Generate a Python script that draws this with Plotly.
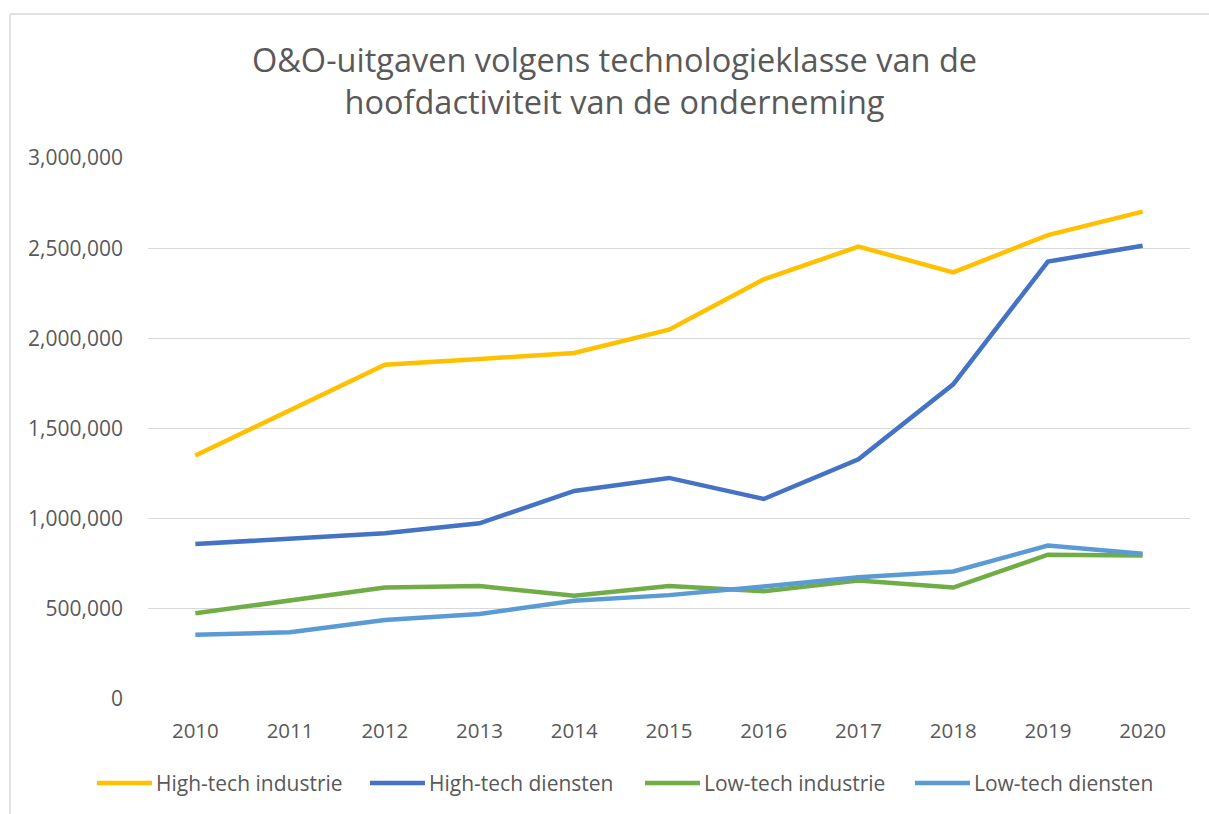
import plotly.graph_objects as go

years = ["2010", "2011", "2012", "2013", "2014", "2015", "2016", "2017", "2018", "2019", "2020"]
high_tech_industrie = [1350000, 1602000, 1853000, 1885000, 1919000, 2048000, 2327000, 2509000, 2366000, 2572000, 2703000]
high_tech_diensten = [859000, 889000, 919000, 974000, 1154000, 1226000, 1109000, 1329000, 1745000, 2426000, 2513000]
low_tech_industrie = [475000, 547000, 618000, 626000, 572000, 626000, 598000, 657000, 618000, 800000, 796000]
low_tech_diensten = [356000, 370000, 438000, 471000, 545000, 576000, 624000, 675000, 707000, 851000, 806000]

series_names = ["High-tech industrie", "High-tech diensten", "Low-tech industrie", "Low-tech diensten"]
series_values = [high_tech_industrie, high_tech_diensten, low_tech_industrie, low_tech_diensten]
series_colors = ["#FFC000", "#4472C4", "#70AD47", "#5B9BD5"]

FONT = "Open Sans, Liberation Sans, Arial, sans-serif"
TXT = "#595959"

fig = go.Figure()
for name, vals, col in zip(series_names, series_values, series_colors):
    fig.add_trace(go.Scatter(x=years, y=vals, name=name, mode="lines",
                             line=dict(color=col, width=4.5)))

W, H = 1209, 814
L, R, T, B = 148, 1190, 158, 699
fig.update_layout(
    width=W, height=H,
    margin=dict(l=L, r=W - R, t=T, b=H - B, autoexpand=False),
    paper_bgcolor="white", plot_bgcolor="white",
    font=dict(family=FONT, color=TXT, size=20),
    title=dict(text="O&O-uitgaven volgens technologieklasse van de<br>hoofdactiviteit van de onderneming",
               x=614.5 / W, xanchor="center", xref="container",
               y=1 - 72 / H, yanchor="top", yref="container",
               font=dict(size=32.5, color=TXT, family=FONT)),
    xaxis=dict(type="category", range=[-0.5, 10.5], showgrid=False, showline=False,
               ticks="", tickfont=dict(size=20.5, color=TXT), ticklabelstandoff=17,
               zeroline=False),
    yaxis=dict(range=[0, 3000000], dtick=500000, tickformat=",", showgrid=True,
               gridcolor="#D9D9D9", gridwidth=1.3, zeroline=False, showline=False,
               ticks="", tickfont=dict(size=21, color=TXT), ticklabelstandoff=24),
    showlegend=False,
)

def px_x(p):
    return (p - L) / (R - L)

def px_y(p):
    return (B - p) / (B - T)

# legend drawn below the plot (one row)
legend_starts = [97, 370, 645, 915]
ly = px_y(783)
for start, name, col in zip(legend_starts, series_names, series_colors):
    fig.add_shape(type="line", xref="paper", yref="paper",
                  x0=px_x(start), x1=px_x(start + 55), y0=ly, y1=ly,
                  line=dict(color=col, width=4.5))
    fig.add_annotation(xref="paper", yref="paper", x=px_x(start + 57), y=ly,
                       xanchor="left", yanchor="middle", showarrow=False,
                       text=name, font=dict(size=21, color=TXT, family=FONT))

# outer chart border (top and left edges)
x0 = px_x(10)
y0 = px_y(14)
fig.add_shape(type="line", xref="paper", yref="paper", x0=x0, x1=px_x(W + 5), y0=y0, y1=y0,
              line=dict(color="#D9D9D9", width=1.5))
fig.add_shape(type="line", xref="paper", yref="paper", x0=x0, x1=x0, y0=y0, y1=px_y(H + 5),
              line=dict(color="#D9D9D9", width=1.5))

fig.write_html("out.html", config={"displayModeBar": False},
               post_script="document.body.style.margin='0';document.body.style.overflow='hidden';")
